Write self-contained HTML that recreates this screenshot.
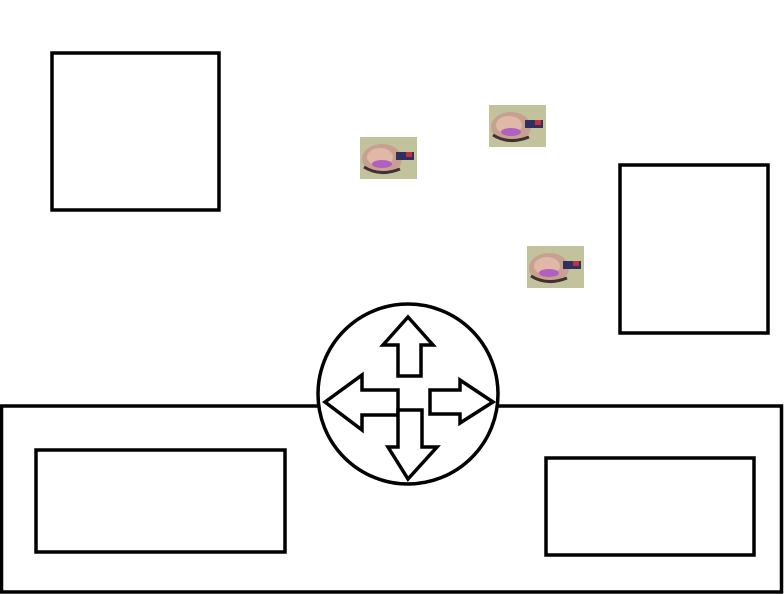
<!DOCTYPE html>
<html><head><style>body{margin:0;background:#fff}svg{display:block}</style></head><body>
<svg width="784" height="594" viewBox="0 0 784 594" xmlns="http://www.w3.org/2000/svg">
<defs>
<g id="spr">
<rect x="0" y="0" width="57" height="42" fill="#c2c29c"/>
<ellipse cx="22" cy="22" rx="20" ry="15" fill="#c8a090"/>
<ellipse cx="20" cy="20" rx="13" ry="9" fill="#e0b8a8"/>
<ellipse cx="22" cy="27" rx="10" ry="4" fill="#b060c0"/>
<rect x="36" y="15" width="18" height="8" fill="#303060"/>
<rect x="46" y="15" width="6" height="5" fill="#c03040"/>
<path d="M4 30 Q20 40 40 32" stroke="#403030" stroke-width="3" fill="none"/>
</g>
</defs>
<g fill="none" stroke="#000" stroke-width="3.5">
<rect x="52" y="53" width="167" height="157"/>
<rect x="620" y="165" width="148" height="168"/>
<rect x="1.5" y="406" width="780" height="186"/>
<rect x="36" y="450" width="249" height="102"/>
<rect x="546" y="458" width="208" height="97"/>
</g>
<circle cx="408" cy="394" r="90" fill="#fff" stroke="#000" stroke-width="3.5"/>
<g fill="#fff" stroke="#000" stroke-width="3.5" stroke-linejoin="miter">
<polygon points="408,317 433,345 421,345 421,376 398,376 398,345 383,345"/>
<polygon points="325,402 362,375 362,390 398,390 398,415 362,415 362,430"/>
<polygon points="493,402 460,380 460,390 430,390 430,414 460,414 460,423"/>
<polygon points="408,479 437,447 422,447 422,410 398,410 398,447 388,447"/>
</g>
<use href="#spr" x="360" y="137"/>
<use href="#spr" x="489" y="105"/>
<use href="#spr" x="527" y="246"/>
</svg>
</body></html>
